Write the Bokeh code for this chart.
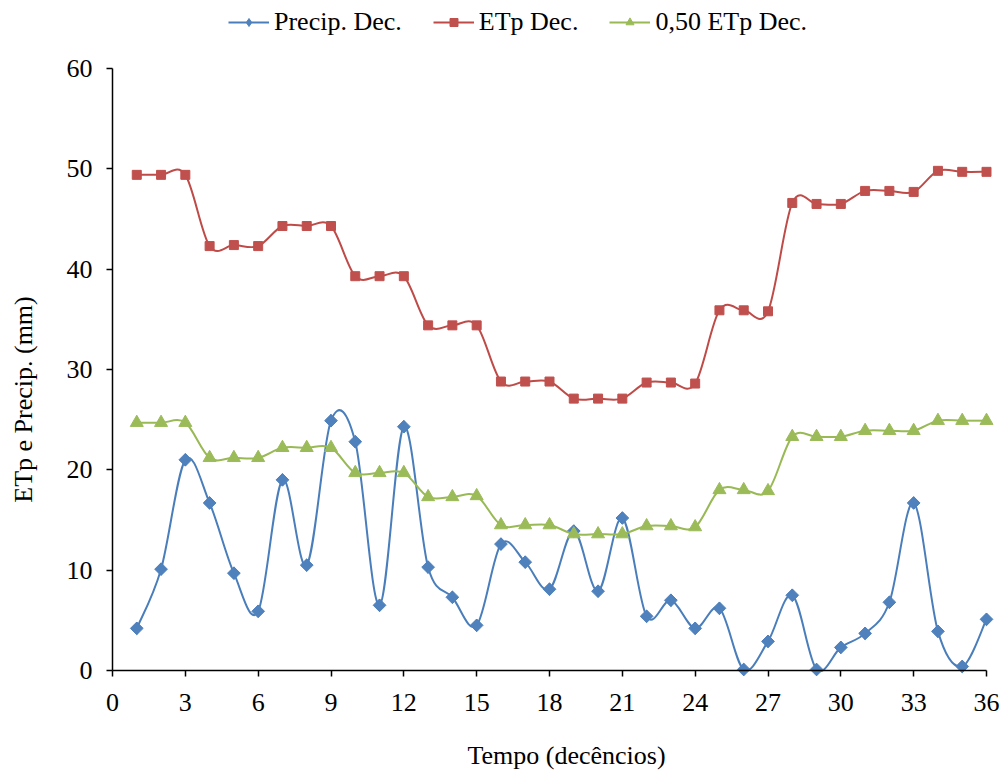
import numpy as np
from bokeh.plotting import figure
from bokeh.models import Range1d, FixedTicker, Legend, LegendItem, Label
from bokeh.embed import file_html
from bokeh.resources import INLINE

# ---------------- data ----------------
decendios = list(range(1, 37))
precip = [4.2, 10.1, 21.0, 16.7, 9.7, 5.9, 19.0, 10.5, 24.9, 22.8, 6.5, 24.3,
          10.3, 7.3, 4.5, 12.6, 10.8, 8.1, 13.9, 7.9, 15.2, 5.4, 7.0, 4.2,
          6.2, 0.1, 2.9, 7.5, 0.1, 2.3, 3.7, 6.8, 16.7, 3.9, 0.4, 5.1]
etp = [49.4, 49.4, 49.4, 42.3, 42.4, 42.3, 44.3, 44.3, 44.3, 39.3, 39.3, 39.3,
       34.4, 34.4, 34.4, 28.8, 28.8, 28.8, 27.1, 27.1, 27.1, 28.7, 28.7, 28.6,
       35.9, 35.9, 35.8, 46.6, 46.5, 46.5, 47.8, 47.8, 47.7, 49.8, 49.7, 49.7]
etp_half = [24.7, 24.7, 24.7, 21.2, 21.2, 21.2, 22.2, 22.2, 22.2, 19.7, 19.7, 19.7,
            17.3, 17.3, 17.4, 14.5, 14.5, 14.5, 13.6, 13.6, 13.6, 14.4, 14.4, 14.3,
            18.0, 18.0, 17.9, 23.3, 23.3, 23.3, 23.9, 23.9, 23.9, 24.9, 24.9, 24.9]
series_labels = ["Precip. Dec.", "ETp Dec.", "0,50 ETp Dec."]
x_ticks = list(range(0, 37, 3))
y_ticks = list(range(0, 61, 10))
X_MIN, X_MAX = 0, 36
Y_MIN, Y_MAX = 0, 60

FONT = "Liberation Serif"
FS = "26px"

# ---------------- layout (pixels) ----------------
W, H = 1000, 772
PLOT_L, PLOT_R, PLOT_T, PLOT_B = 112, 986, 68, 670   # axis box in canvas pixels


def smooth_ctrl(xs, ys):
    """Catmull-Rom style cubic Bezier control points (Excel-like smoothing)."""
    xs = np.asarray(xs, float)
    ys = np.asarray(ys, float)
    n = len(xs)
    out = dict(x0=[], y0=[], x1=[], y1=[], cx0=[], cy0=[], cx1=[], cy1=[])
    for i in range(n - 1):
        ip = max(i - 1, 0)
        inx = min(i + 2, n - 1)
        out["x0"].append(xs[i]); out["y0"].append(ys[i])
        out["x1"].append(xs[i + 1]); out["y1"].append(ys[i + 1])
        out["cx0"].append(xs[i] + (xs[i + 1] - xs[ip]) / 6.0)
        out["cy0"].append(ys[i] + (ys[i + 1] - ys[ip]) / 6.0)
        out["cx1"].append(xs[i + 1] - (xs[inx] - xs[i]) / 6.0)
        out["cy1"].append(ys[i + 1] - (ys[inx] - ys[i]) / 6.0)
    return out


# the frame spans the whole canvas; axes are pinned at data 0 so that
# legend and titles (which live in the frame) are never clipped
kx = (X_MAX - X_MIN) / (PLOT_R - PLOT_L)
ky = (Y_MAX - Y_MIN) / (PLOT_B - PLOT_T)
x_range = Range1d(X_MIN - PLOT_L * kx, X_MAX + (W - PLOT_R) * kx)
y_range = Range1d(Y_MIN - (H - PLOT_B) * ky, Y_MAX + PLOT_T * ky)

p = figure(width=W, height=H, output_backend="svg", toolbar_location=None,
           x_range=x_range, y_range=y_range,
           min_border_left=0, min_border_right=0,
           min_border_top=0, min_border_bottom=0)
p.outline_line_color = None
p.xgrid.visible = False
p.ygrid.visible = False
p.background_fill_color = "white"
p.border_fill_color = "white"

for ax in (p.xaxis[0], p.yaxis[0]):
    ax.axis_line_color = "black"
    ax.axis_line_width = 1.5
    ax.major_tick_line_color = "black"
    ax.major_tick_line_width = 1.5
    ax.major_tick_out = 6
    ax.major_tick_in = 0
    ax.minor_tick_line_color = None
    ax.major_label_text_font = FONT
    ax.major_label_text_font_size = FS
    ax.major_label_text_color = "black"

p.xaxis.fixed_location = Y_MIN
p.yaxis.fixed_location = X_MIN
p.xaxis.bounds = (X_MIN, X_MAX)
p.yaxis.bounds = (Y_MIN, Y_MAX)
p.xaxis.major_label_standoff = 17
p.yaxis.major_label_standoff = 14
p.xaxis.ticker = FixedTicker(ticks=x_ticks)
p.yaxis.ticker = FixedTicker(ticks=y_ticks)

styles = [
    (precip, "#4A7EBB", "#4F81BD", "square", np.pi / 4, 9),
    (etp, "#BE4B48", "#C0504D", "square", 0.0, 9),
    (etp_half, "#98B954", "#9BBB59", "triangle", 0.0, 13),
]

items = []
for k, ((ys, lc, mc, mk, ang, sz), lab) in enumerate(zip(styles, series_labels)):
    c = smooth_ctrl(decendios, ys)
    b = p.bezier(x0=c["x0"], y0=c["y0"], x1=c["x1"], y1=c["y1"],
                 cx0=c["cx0"], cy0=c["cy0"], cx1=c["cx1"], cy1=c["cy1"],
                 line_color=lc, line_width=2)
    leg_r = None
    if k == 0:
        # diamond drawn beneath the rotated square: gives the legend its diamond
        leg_r = p.scatter(x=decendios, y=ys, marker="diamond", size=12,
                          fill_color=mc, line_color=mc)
    s = p.scatter(x=decendios, y=ys, marker=mk, angle=ang, size=sz,
                  fill_color=mc, line_color=mc)
    items.append(LegendItem(label=lab, renderers=[b, leg_r if leg_r is not None else s]))

legend = Legend(items=items, orientation="horizontal", location=(228, H - 37),
                glyph_width=41, glyph_height=20, label_height=20,
                label_standoff=5, spacing=31, padding=0, margin=0,
                border_line_color=None, background_fill_alpha=0,
                label_text_font=FONT, label_text_font_size=FS,
                label_text_color="black")
p.add_layout(legend)

p.add_layout(Label(x=23, y=H - 399, x_units="screen", y_units="screen",
                   text="ETp e Precip. (mm)", angle=np.pi / 2,
                   text_align="center", text_baseline="middle",
                   text_font=FONT, text_font_size=FS, text_color="black"))
p.add_layout(Label(x=566, y=H - 755, x_units="screen", y_units="screen",
                   text="Tempo (decêncios)",
                   text_align="center", text_baseline="middle",
                   text_font=FONT, text_font_size=FS, text_color="black"))

open("out.html", "w").write(file_html(p, INLINE))
